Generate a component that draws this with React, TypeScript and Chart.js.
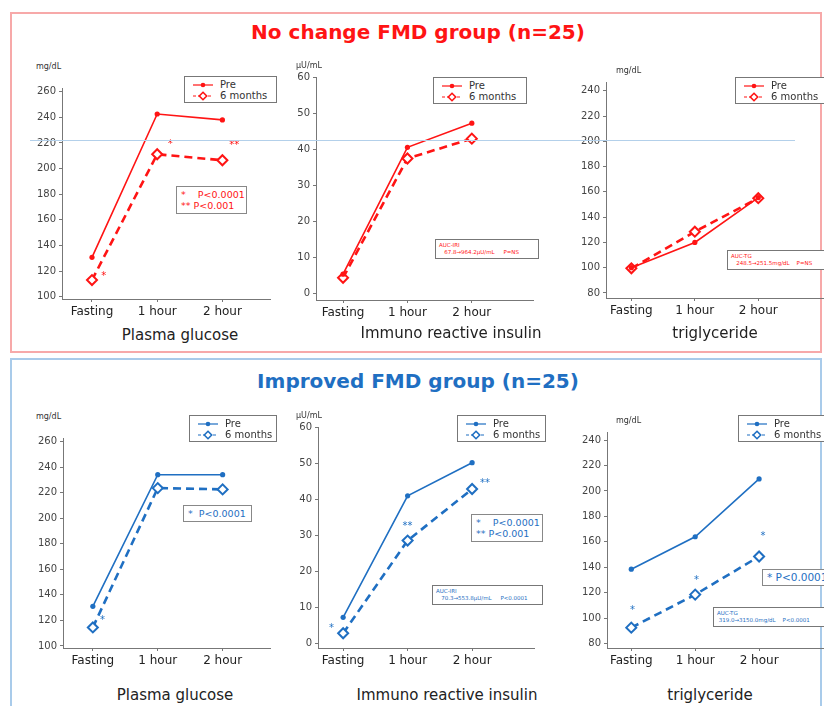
import React, { useEffect, useRef } from 'react';
import { Chart, registerables } from 'chart.js';

Chart.register(...registerables);

// ---------- data ----------
const categories = ['Fasting', '1 hour', '2 hour'];

const glucoseTicks = [100, 120, 140, 160, 180, 200, 220, 240, 260];
const insulinTicks = [0, 10, 20, 30, 40, 50, 60];
const tgTicks = [80, 100, 120, 140, 160, 180, 200, 220, 240];

// No change FMD group
const glucoseNoChangePre = [130.7, 242.6, 238];
const glucoseNoChange6m = [113, 211.2, 206.5];
const insulinNoChangePre = [5.3, 40.5, 47.2];
const insulinNoChange6m = [4.3, 37.4, 42.9];
const tgNoChangePre = [100, 120, 155.5];
const tgNoChange6m = [99.5, 128.5, 155];

// Improved FMD group
const glucoseImprovedPre = [131, 234, 234];
const glucoseImproved6m = [114.5, 223.5, 222.5];
const insulinImprovedPre = [7.2, 40.9, 50.1];
const insulinImproved6m = [2.8, 28.5, 42.8];
const tgImprovedPre = [138.5, 164, 209.5];
const tgImproved6m = [92.5, 118.5, 148.5];

const seriesNames = ['Pre', '6 months'];

// significance markers (category position, value, text)
const starsGlucoseNoChange = [
  { x: 1.2, y: 218.6, t: '*' },
  { x: 2.18, y: 218, t: '**' },
  { x: 0.18, y: 116, t: '*' },
];
const starsGlucoseImproved = [{ x: 0.15, y: 119.6, t: '*' }];
const starsInsulinImproved = [
  { x: -0.18, y: 4.2, t: '*' },
  { x: 1.0, y: 32.3, t: '**' },
  { x: 2.2, y: 44.3, t: '**' },
];
const starsTgImproved = [
  { x: 0.02, y: 106.2, t: '*' },
  { x: 1.02, y: 130, t: '*' },
  { x: 2.06, y: 164, t: '*' },
];

const RED = '#ff1414';
const BLUE = '#1f6fc2';
const FONT = '"DejaVu Sans", Verdana, sans-serif';

type Geom = {
  aL: number; aR: number; aT: number; aB: number;
  xMin: number; xMax: number; yMin: number; yMax: number;
};

const YW = 40;
const XH = 24;
const PT = 12;

function Panel(props: {
  geom: Geom; pre: number[]; post: number[]; color: string;
  yTicks: number[]; stars?: { x: number; y: number; t: string }[];
}) {
  const { geom, pre, post, color, yTicks, stars } = props;
  const ref = useRef<HTMLCanvasElement>(null);
  const width = geom.aR - geom.aL + YW;
  const height = geom.aB - geom.aT + PT + XH;

  useEffect(() => {
    const starPlugin = {
      id: 'stars',
      afterDatasetsDraw(chart: any) {
        if (!stars) return;
        const ctx = chart.ctx;
        ctx.save();
        ctx.fillStyle = color;
        ctx.font = `10px ${FONT}`;
        ctx.textAlign = 'center';
        ctx.textBaseline = 'middle';
        for (const s of stars) {
          ctx.fillText(s.t, chart.scales.x.getPixelForValue(s.x), chart.scales.y.getPixelForValue(s.y));
        }
        ctx.restore();
      },
    };
    const chart = new Chart(ref.current as HTMLCanvasElement, {
      type: 'line',
      data: {
        datasets: [
          {
            label: seriesNames[0],
            data: categories.map((_, i) => ({ x: i, y: pre[i] })),
            borderColor: color,
            backgroundColor: color,
            borderWidth: 1.6,
            pointRadius: 2.6,
            pointBackgroundColor: color,
            pointBorderColor: color,
            pointBorderWidth: 0,
            tension: 0,
            clip: false as any,
          },
          {
            label: seriesNames[1],
            data: categories.map((_, i) => ({ x: i, y: post[i] })),
            borderColor: color,
            backgroundColor: '#ffffff',
            borderWidth: 2.6,
            borderDash: [8, 5],
            pointStyle: 'rectRot',
            pointRadius: 5,
            pointBackgroundColor: '#ffffff',
            pointBorderColor: color,
            pointBorderWidth: 2,
            tension: 0,
            clip: false as any,
          },
        ],
      },
      options: {
        responsive: false,
        animation: false,
        devicePixelRatio: 1,
        layout: { padding: { top: PT, left: 0, right: 0, bottom: 0 } },
        plugins: { legend: { display: false }, tooltip: { enabled: false } },
        scales: {
          x: {
            type: 'linear',
            min: geom.xMin,
            max: geom.xMax,
            afterBuildTicks: (s: any) => { s.ticks = categories.map((_, i) => ({ value: i })); },
            afterFit: (s: any) => { s.height = XH; },
            ticks: {
              callback: (v: any) => categories[v] ?? '',
              font: { family: FONT, size: 12 },
              color: '#222',
              padding: 3,
              maxRotation: 0,
              autoSkip: false,
            },
            grid: { drawOnChartArea: false, drawTicks: true, tickLength: 3, color: '#777' },
            border: { color: '#777', width: 1 },
          },
          y: {
            type: 'linear',
            min: geom.yMin,
            max: geom.yMax,
            afterBuildTicks: (s: any) => { s.ticks = yTicks.map((v) => ({ value: v })); },
            afterFit: (s: any) => { s.width = YW; },
            ticks: {
              font: { family: FONT, size: 10 },
              color: '#444',
              padding: 3,
            },
            grid: { drawOnChartArea: false, drawTicks: true, tickLength: 3, color: '#777' },
            border: { color: '#777', width: 1 },
          },
        },
      } as any,
      plugins: [starPlugin],
    });
    return () => chart.destroy();
  }, []);

  return (
    <canvas
      ref={ref}
      width={width}
      height={height}
      style={{ position: 'absolute', left: geom.aL - YW, top: geom.aT - PT, width, height }}
    />
  );
}

function Legend(props: { left: number; top: number; width: number; color: string }) {
  const { left, top, width, color } = props;
  return (
    <div
      style={{
        position: 'absolute', left, top, width, height: 27, boxSizing: 'border-box',
        border: '1px solid #777', background: '#fff', fontFamily: FONT, fontSize: 10, color: '#333',
      }}
    >
      <div style={{ position: 'absolute', left: 8, top: 2, display: 'flex', alignItems: 'center', height: 11 }}>
        <svg width="20" height="10" style={{ marginRight: 7 }}>
          <line x1="0" y1="5" x2="20" y2="5" stroke={color} strokeWidth="1.2" />
          <circle cx="10" cy="5" r="2.3" fill={color} />
        </svg>
        <span>{seriesNames[0]}</span>
      </div>
      <div style={{ position: 'absolute', left: 8, top: 13, display: 'flex', alignItems: 'center', height: 11 }}>
        <svg width="20" height="10" style={{ marginRight: 7 }}>
          <line x1="0" y1="5" x2="20" y2="5" stroke={color} strokeWidth="1.2" strokeDasharray="3 2" />
          <polygon points="10,1.3 13.7,5 10,8.7 6.3,5" fill="#fff" stroke={color} strokeWidth="1.6" />
        </svg>
        <span>{seriesNames[1]}</span>
      </div>
    </div>
  );
}

function PBox(props: { left: number; top: number; width: number; lines: string[]; color: string; size?: number }) {
  const { left, top, width, lines, color, size } = props;
  return (
    <div
      style={{
        position: 'absolute', left, top, width, boxSizing: 'border-box', border: '1px solid #888',
        background: '#fff', color, fontFamily: FONT, fontSize: size ?? 9.5, lineHeight: '11px',
        padding: '2px 4px', whiteSpace: 'pre',
      }}
    >
      {lines.map((l, i) => <div key={i}>{l}</div>)}
    </div>
  );
}

function AucBox(props: { left: number; top: number; width: number; lines: string[]; color: string }) {
  const { left, top, width, lines, color } = props;
  return (
    <div
      style={{
        position: 'absolute', left, top, width, height: 20, boxSizing: 'border-box', border: '1px solid #777',
        background: '#fff', color, fontFamily: FONT, fontSize: 5.5, lineHeight: '7px', padding: '2px 3px',
        whiteSpace: 'pre',
      }}
    >
      {lines.map((l, i) => <div key={i}>{l}</div>)}
    </div>
  );
}

function Text(props: { cx?: number; left?: number; cy: number; text: string; size: number; color: string; bold?: boolean }) {
  const { cx, left, cy, text, size, color, bold } = props;
  const style: any = {
    position: 'absolute', top: cy - size * 0.6, fontFamily: FONT, fontSize: size, color,
    fontWeight: bold ? 'bold' : 'normal', whiteSpace: 'nowrap', lineHeight: `${size * 1.2}px`,
  };
  if (cx !== undefined) { style.left = cx; style.transform = 'translateX(-50%)'; } else { style.left = left; }
  return <div style={style}>{text}</div>;
}

export default function App() {
  return (
    <div style={{ position: 'absolute', left: 0, top: 0, width: 824, height: 706, overflow: 'hidden', background: '#fff' }}>
      {/* group frames */}
      <div style={{ position: 'absolute', left: 10, top: 12, width: 812, height: 341, boxSizing: 'border-box', border: '2px solid #f7a9a9' }} />
      <div style={{ position: 'absolute', left: 10, top: 358, width: 812, height: 370, boxSizing: 'border-box', border: '2px solid #a9cbea' }} />

      <Text cx={418} cy={32} text="No change FMD group (n=25)" size={20} color={RED} bold />
      <Text cx={418} cy={381} text="Improved FMD group (n=25)" size={20} color={BLUE} bold />

      {/* top row */}
      <Panel geom={{ aL: 62, aR: 277, aT: 88, aB: 299, xMin: -0.46, xMax: 2.73, yMin: 98.2, yMax: 262.9 }}
        pre={glucoseNoChangePre} post={glucoseNoChange6m} color={RED} yTicks={glucoseTicks} stars={starsGlucoseNoChange} />
      <Panel geom={{ aL: 316, aR: 540, aT: 77, aB: 300, xMin: -0.42, xMax: 2.95, yMin: -1.86, yMax: 60 }}
        pre={insulinNoChangePre} post={insulinNoChange6m} color={RED} yTicks={insulinTicks} />
      <Panel geom={{ aL: 606, aR: 830, aT: 82, aB: 298, xMin: -0.40, xMax: 3.02, yMin: 76, yMax: 247 }}
        pre={tgNoChangePre} post={tgNoChange6m} color={RED} yTicks={tgTicks} />

      {/* light guide line */}
      <div style={{ position: 'absolute', left: 30, top: 140, width: 765, height: 1, background: '#b3d0ea' }} />

      {/* bottom row */}
      <Panel geom={{ aL: 63, aR: 277, aT: 438, aB: 648, xMin: -0.46, xMax: 2.73, yMin: 98.4, yMax: 262.7 }}
        pre={glucoseImprovedPre} post={glucoseImproved6m} color={BLUE} yTicks={glucoseTicks} stars={starsGlucoseImproved} />
      <Panel geom={{ aL: 318, aR: 541, aT: 427, aB: 648, xMin: -0.39, xMax: 2.96, yMin: -1.3, yMax: 60 }}
        pre={insulinImprovedPre} post={insulinImproved6m} color={BLUE} yTicks={insulinTicks} stars={starsInsulinImproved} />
      <Panel geom={{ aL: 607, aR: 830, aT: 432, aB: 648, xMin: -0.38, xMax: 3.0, yMin: 76.5, yMax: 246.4 }}
        pre={tgImprovedPre} post={tgImproved6m} color={BLUE} yTicks={tgTicks} stars={starsTgImproved} />

      {/* units */}
      <Text left={36} cy={67} text="mg/dL" size={8} color="#333" />
      <Text left={296} cy={66} text="μU/mL" size={8} color="#333" />
      <Text left={616} cy={71} text="mg/dL" size={8} color="#333" />
      <Text left={36} cy={417} text="mg/dL" size={8} color="#333" />
      <Text left={296} cy={416} text="μU/mL" size={8} color="#333" />
      <Text left={616} cy={421} text="mg/dL" size={8} color="#333" />

      {/* legends */}
      <Legend left={184} top={76} width={93} color={RED} />
      <Legend left={433} top={77} width={94} color={RED} />
      <Legend left={735} top={77} width={95} color={RED} />
      <Legend left={189} top={415} width={88} color={BLUE} />
      <Legend left={457} top={415} width={89} color={BLUE} />
      <Legend left={738} top={415} width={95} color={BLUE} />

      {/* p-value boxes */}
      <PBox left={176} top={186} width={71} lines={['*    P<0.0001', '** P<0.001']} color={RED} />
      <PBox left={183} top={505} width={69} lines={['*  P<0.0001']} color={BLUE} />
      <PBox left={471} top={514} width={72} lines={['*    P<0.0001', '** P<0.001']} color={BLUE} />
      <PBox left={762} top={569} width={70} lines={['* P<0.0001']} color={BLUE} size={10.5} />

      {/* AUC boxes */}
      <AucBox left={435} top={239} width={104} lines={['AUC-IRI', '   67.8→964.2μU/mL     P=NS']} color={RED} />
      <AucBox left={727} top={250} width={105} lines={['AUC-TG', '   248.5→251.5mg/dL    P=NS']} color={RED} />
      <AucBox left={432} top={585} width={111} lines={['AUC-IRI', '   70.3→553.8μU/mL     P<0.0001']} color={BLUE} />
      <AucBox left={713} top={607} width={115} lines={['AUC-TG', ' 319.0→3150.0mg/dL    P<0.0001']} color={BLUE} />

      {/* panel titles */}
      <Text cx={180} cy={335} text="Plasma glucose" size={15} color="#222" />
      <Text cx={451} cy={333} text="Immuno reactive insulin" size={15} color="#222" />
      <Text cx={715} cy={333} text="triglyceride" size={15} color="#222" />
      <Text cx={175} cy={695} text="Plasma glucose" size={15} color="#222" />
      <Text cx={447} cy={695} text="Immuno reactive insulin" size={15} color="#222" />
      <Text cx={710} cy={695} text="triglyceride" size={15} color="#222" />
    </div>
  );
}
